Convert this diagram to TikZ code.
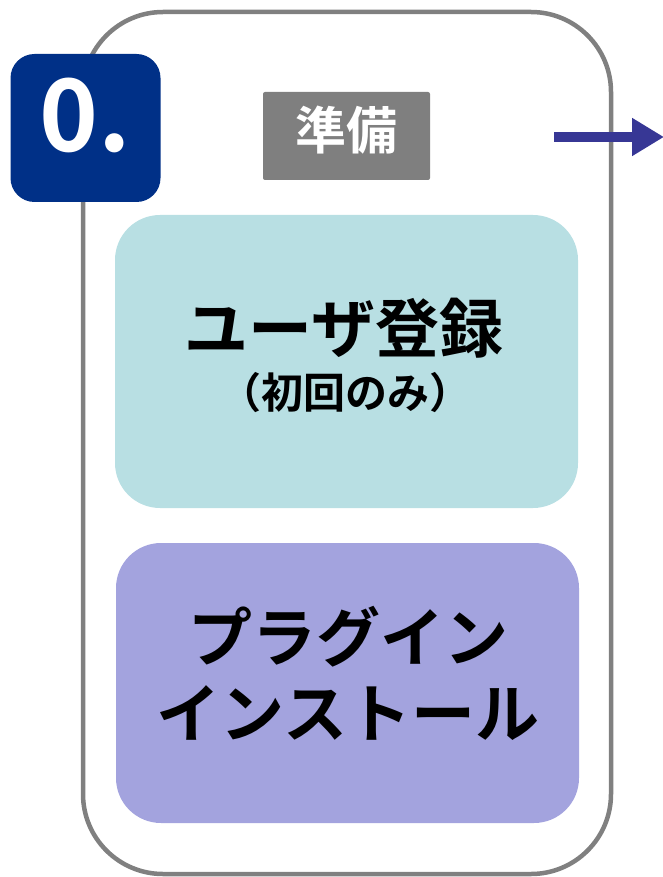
\documentclass[tikz,border=0pt]{standalone}
\usepackage{fontspec}
\setmainfont{Noto Sans CJK JP}[BoldFont={* Bold}]
\usetikzlibrary{arrows.meta}
\definecolor{frame}{HTML}{808080}
\definecolor{badge}{HTML}{003087}
\definecolor{tagbg}{HTML}{7F7F7F}
\definecolor{teal}{HTML}{B8DFE3}
\definecolor{lav}{HTML}{A3A3DE}
\definecolor{arrowc}{HTML}{373795}
\tikzset{
  panel/.style={rounded corners=45pt, inner sep=0pt},
  bigtxt/.style={font=\fontsize{64}{76}\selectfont\bfseries, align=center, text=black},
}
\begin{document}
\begin{tikzpicture}[x=1pt,y=-1pt]
\useasboundingbox (0,0) rectangle (662,877);
% outer frame
\draw[frame, line width=4.5pt, rounded corners=80pt] (83,12) rectangle (611,874);
% badge
\node[fill=badge, rounded corners=24pt, minimum width=150pt, minimum height=148pt, inner sep=0pt] (badge) at (85.5,128) {};
\node[text=white, font=\fontsize{100}{100}\selectfont\bfseries, inner sep=0pt] (num) at (85,115) {0.};
% tag
\node[fill=tagbg, rounded corners=2pt, minimum width=167pt, minimum height=88pt, inner sep=0pt] (tag) at (346.5,136) {};
\node[text=white, font=\fontsize{51}{51}\selectfont\bfseries, inner sep=0pt] (tagtxt) at (346.5,130) {準備};
% panels
\fill[teal, panel] (115,215) rectangle (578,508);
\fill[lav, panel] (116,543) rectangle (579,823);
\node[bigtxt] (user) at (344,328) {ユーザ登録};
\node[font=\fontsize{42}{42}\selectfont\bfseries] (first) at (345,393) {（初回のみ）};
\node[bigtxt] (plugin) at (348,673) {プラグイン\\インストール};
% arrow
\coordinate (astart) at (554,137);
\coordinate (aend) at (664,137);
\draw[arrowc, line width=10pt, -{Triangle[length=32pt,width=36pt]}] (astart) -- (aend);
\end{tikzpicture}
\end{document}
